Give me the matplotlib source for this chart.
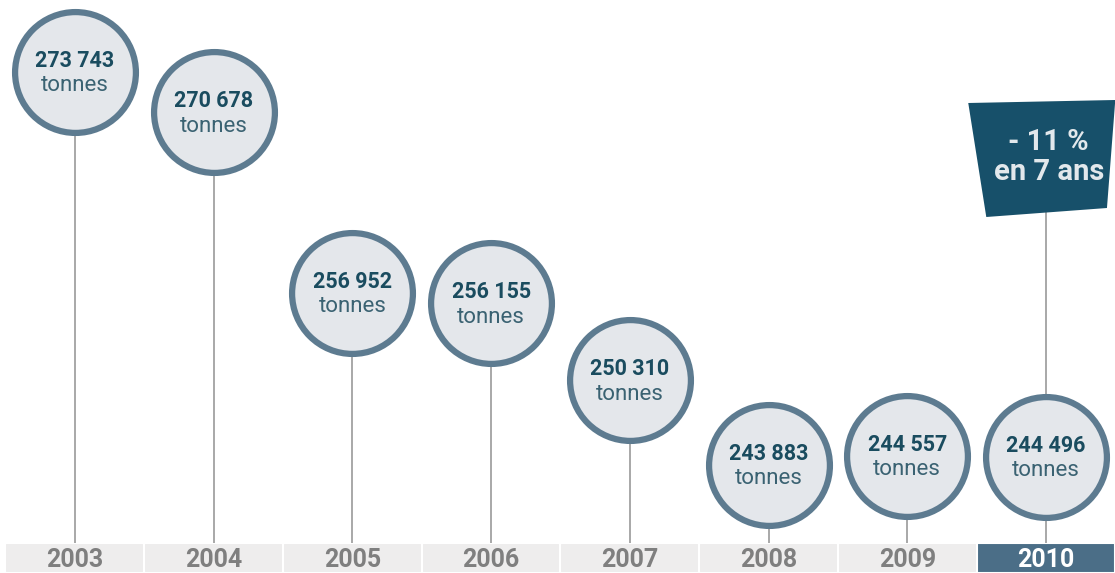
import matplotlib
matplotlib.use("Agg")
import matplotlib.pyplot as plt
from matplotlib import font_manager
from matplotlib.patches import Polygon, Rectangle
import matplotlib.transforms as mtransforms

years = ["2003", "2004", "2005", "2006", "2007", "2008", "2009", "2010"]
values = [273743, 270678, 256952, 256155, 250310, 243883, 244557, 244496]
value_labels = ["273 743", "270 678", "256 952", "256 155", "250 310", "243 883", "244 557", "244 496"]
unit_label = "tonnes"
callout = "- 11 %\nen 7 ans"

names = {f.name for f in font_manager.fontManager.ttflist}
FONT = "Liberation Sans Narrow" if "Liberation Sans Narrow" in names else "Roboto"

W, H, DPI = 1115, 573, 100
fig = plt.figure(figsize=(W / DPI, H / DPI), dpi=DPI)
fig.patch.set_facecolor("white")
ax = fig.add_axes([0, 0, 1, 1])
ax.set_axis_off()

n = len(years)
xs = list(range(n))
ax.set_xlim(-0.541, 7.498)
ax.set_ylim(235673, 279214)

bar_top = 30 / H  # axes fraction
ymin, ymax = ax.get_ylim()
bar_top_data = ymin + bar_top * (ymax - ymin)

circle_face = "#e4e7eb"
circle_edge = "#5d7b90"
num_color = "#1a4c5f"
unit_color = "#3a6272"
stem_color = "#9a9a9a"
bar_color = "#eeeded"
hl_color = "#4b6e87"
box_color = "#17506a"

blend = mtransforms.blended_transform_factory(ax.transData, ax.transAxes)

# bottom bar segments
for i, y in enumerate(years):
    left = -0.505 if i == 0 else i - 0.5
    right = 7.498 if i == n - 1 else i + 0.5
    col = hl_color if i == n - 1 else bar_color
    ax.add_patch(Rectangle((left, 0), right - left, bar_top, transform=blend,
                           facecolor=col, edgecolor="white", linewidth=1.5, zorder=1))
    ax.text(i, bar_top / 2 - 0.004, y, transform=blend, ha="center", va="center",
            fontsize=18, fontweight="bold", family=FONT,
            color="white" if i == n - 1 else "#7f7f7f", zorder=3)

# stems
ax.vlines(xs, bar_top_data, values, color=stem_color, linewidth=1.2, zorder=2)

# circles
ax.scatter(xs, values, s=87 ** 2, facecolor=circle_face, edgecolor=circle_edge,
           linewidth=4.5, zorder=4)

for x, v, lab in zip(xs, values, value_labels):
    ax.annotate(lab, (x, v), xytext=(0, 8), textcoords="offset points",
                ha="center", va="center", fontsize=15.5, fontweight="bold",
                family=FONT, color=num_color, zorder=5)
    ax.annotate(unit_label, (x, v), xytext=(0, -10), textcoords="offset points",
                ha="center", va="center", fontsize=16, fontweight="normal",
                family=FONT, color=unit_color, zorder=5)

# callout box above 2010
xl = n - 1
box_bottom = 1 - 212 / H
box_pts = [(xl - 0.56, 1 - 103 / H), (xl + 0.50, 1 - 100 / H),
           (xl + 0.44, 1 - 208 / H), (xl - 0.43, 1 - 217 / H)]
ax.add_patch(Polygon(box_pts, closed=True, transform=blend, facecolor=box_color,
                     edgecolor="none", zorder=3))
ax.vlines([xl], values[-1], ymin + box_bottom * (ymax - ymin), color=stem_color,
          linewidth=1.2, zorder=2)
ax.text(xl + 0.02, 1 - 157 / H, callout, transform=blend, ha="center", va="center",
        fontsize=21, fontweight="bold", family=FONT, color="#e2e8ec",
        linespacing=1.1, zorder=5)

fig.savefig("out.png", dpi=DPI, facecolor="white")
